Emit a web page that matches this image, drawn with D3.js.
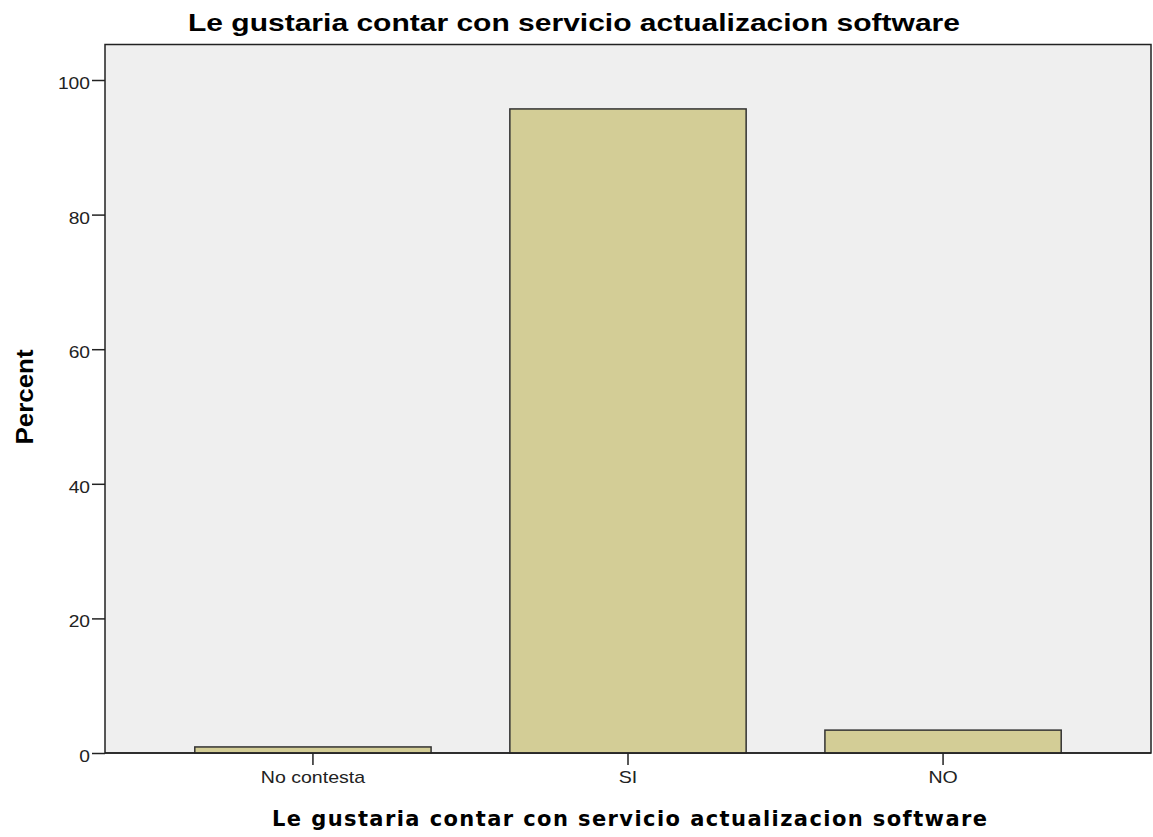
<!DOCTYPE html>
<html>
<head>
<meta charset="utf-8">
<script src="https://cdn.jsdelivr.net/npm/d3@7"></script>
<style>
  body { margin: 0; background: #fff; }
  text { font-family: "Liberation Sans", Arial, sans-serif; }
</style>
</head>
<body>
<div id="chart"></div>
<script>
const categories = ["No contesta", "SI", "NO"];
const percents = [0.9, 95.7, 3.4];
const yTicks = [0, 20, 40, 60, 80, 100];
const title = "Le gustaria contar con servicio actualizacion software";

const width = 1153, height = 837;
const margin = { top: 44.5, right: 2, bottom: 84, left: 105 };

const svg = d3.select("#chart").append("svg")
  .attr("width", width).attr("height", height);

// the reference text is a bit wider than the fonts we have, so stretch it
function stretch(sel, k) {
  sel.each(function () {
    const w = this.getComputedTextLength();
    d3.select(this).attr("textLength", w * k).attr("lengthAdjust", "spacingAndGlyphs");
  });
}

const x = d3.scaleBand()
  .domain(categories)
  .range([margin.left, width - margin.right])
  .paddingInner(0.25)
  .paddingOuter(0.285);

const y = d3.scaleLinear()
  .domain([0, 100])
  .range([753, 80]);

// plot background
svg.append("rect")
  .attr("x", margin.left)
  .attr("y", margin.top)
  .attr("width", width - margin.right - margin.left)
  .attr("height", y(0) - margin.top)
  .attr("fill", "#efefef")
  .attr("stroke", "#222")
  .attr("stroke-width", 1.5);

svg.append("g")
  .selectAll("rect")
  .data(categories)
  .join("rect")
  .attr("x", (d) => x(d))
  .attr("y", (d, i) => y(percents[i]))
  .attr("width", x.bandwidth())
  .attr("height", (d, i) => y(0) - y(percents[i]))
  .attr("fill", "#d3cd96")
  .attr("stroke", "#333")
  .attr("stroke-width", 1.5);

// axes
const yAxis = svg.append("g")
  .attr("transform", `translate(${margin.left},0)`)
  .call(d3.axisLeft(y).tickValues(yTicks).tickSize(13).tickPadding(2));
yAxis.select(".domain").remove();
yAxis.selectAll("line").attr("stroke", "#222").attr("stroke-width", 1.5);
yAxis.selectAll("text").attr("font-size", 17).attr("fill", "#222")
  .attr("dy", "0.5em")
  .style("font-family", "'Liberation Sans', Arial, sans-serif")
  .call(stretch, 1.13);

const xAxis = svg.append("g")
  .attr("transform", `translate(0,${y(0)})`)
  .call(d3.axisBottom(x).tickSize(12).tickPadding(6));
xAxis.select(".domain").remove();
xAxis.selectAll("line").attr("stroke", "#222").attr("stroke-width", 1.5);
xAxis.selectAll("text").attr("font-size", 17).attr("fill", "#222")
  .style("font-family", "'Liberation Sans', Arial, sans-serif")
  .call(stretch, 1.15);

// baseline on top
svg.append("line")
  .attr("x1", margin.left).attr("x2", width - margin.right)
  .attr("y1", y(0)).attr("y2", y(0))
  .attr("stroke", "#222").attr("stroke-width", 1.5);

svg.append("text")
  .attr("x", 574).attr("y", 31)
  .attr("text-anchor", "middle")
  .attr("font-size", 23).attr("font-weight", "bold")
  .attr("textLength", 772).attr("lengthAdjust", "spacingAndGlyphs")
  .text(title);

svg.append("text")
  .attr("x", 629.5).attr("y", 826)
  .attr("text-anchor", "middle")
  .attr("font-size", 21).attr("font-weight", "bold")
  .style("font-family", "'DejaVu Sans', sans-serif")
  .attr("textLength", 715).attr("lengthAdjust", "spacing")
  .text(title);

svg.append("text")
  .attr("transform", "rotate(-90)")
  .attr("x", -397).attr("y", 33)
  .attr("text-anchor", "middle")
  .attr("font-size", 23).attr("font-weight", "bold")
  .attr("textLength", 95).attr("lengthAdjust", "spacingAndGlyphs")
  .text("Percent");
</script>
</body>
</html>
